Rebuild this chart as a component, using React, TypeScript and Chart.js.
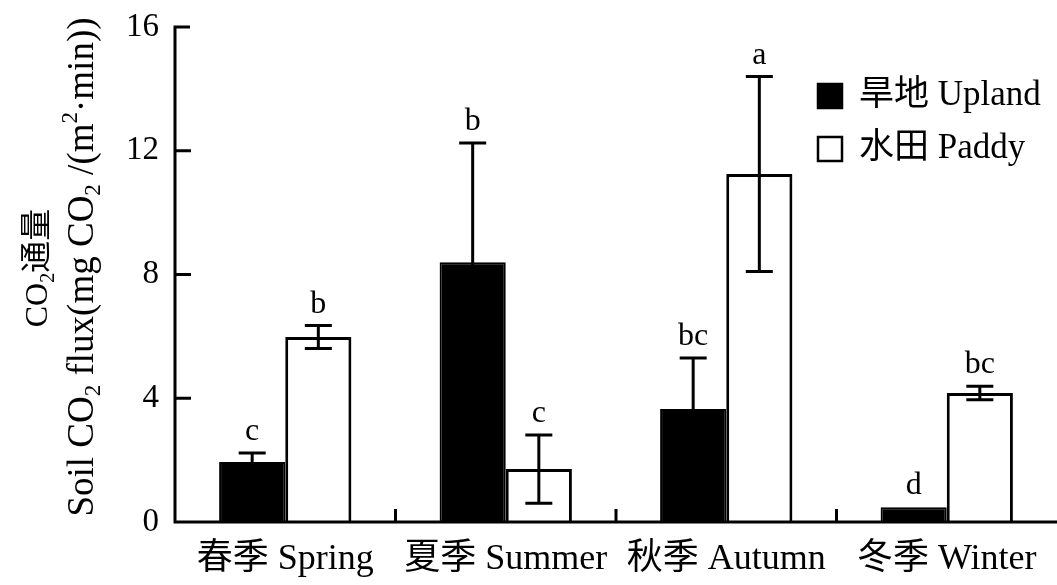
import { useEffect, useRef } from "react";
import { Chart, registerables } from "chart.js";
Chart.register(...registerables);

const categories = ["春季 Spring", "夏季 Summer", "秋季 Autumn", "冬季 Winter"];
const seriesNames = ["旱地 Upland", "水田 Paddy"];
const uplandValues = [1.94, 8.4, 3.65, 0.48];
const uplandErrors = [0.29, 3.85, 1.65, 0];
const uplandLetters = ["c", "b", "bc", "d"];
const paddyValues = [5.98, 1.71, 11.25, 4.17];
const paddyErrors = [0.37, 1.1, 3.15, 0.22];
const paddyLetters = ["b", "c", "a", "bc"];
const yTicks = [0, 4, 8, 12, 16];

type Seg = { t: string; k?: "sub" | "sup" };
const yTitleLine1: Seg[] = [{ t: "CO" }, { t: "2", k: "sub" }, { t: "通量" }];
const yTitleLine2: Seg[] = [
  { t: "Soil CO" }, { t: "2", k: "sub" }, { t: " flux(mg CO" }, { t: "2", k: "sub" },
  { t: " /(m" }, { t: "2", k: "sup" }, { t: "·min))" },
];

const FAM = '"Liberation Serif", "Noto Sans CJK SC", serif';

function drawRich(ctx: CanvasRenderingContext2D, segs: Seg[], cx: number, cy: number, size: number) {
  const small = Math.round(size * 0.62);
  const widths = segs.map((s) => {
    ctx.font = `${s.k ? small : size}px ${FAM}`;
    return ctx.measureText(s.t).width;
  });
  const total = widths.reduce((a, b) => a + b, 0);
  let x = cx - total / 2;
  ctx.textAlign = "left";
  ctx.textBaseline = "middle";
  segs.forEach((s, i) => {
    ctx.font = `${s.k ? small : size}px ${FAM}`;
    const dy = s.k === "sub" ? size * 0.3 : s.k === "sup" ? -size * 0.32 : 0;
    ctx.fillText(s.t, x, cy + dy);
    x += widths[i];
  });
}

const errorPlugin = {
  id: "errs",
  afterDatasetsDraw(chart: any) {
    const ctx: CanvasRenderingContext2D = chart.ctx;
    const ys = chart.scales.y;
    const sets = [
      { vals: uplandValues, errs: uplandErrors, letters: uplandLetters },
      { vals: paddyValues, errs: paddyErrors, letters: paddyLetters },
    ];
    ctx.save();
    sets.forEach((s, di) => {
      const meta = chart.getDatasetMeta(di);
      meta.data.forEach((el: any, i: number) => {
        const x = el.x;
        const v = s.vals[i];
        const e = s.errs[i];
        const top = ys.getPixelForValue(v + e);
        const bot = ys.getPixelForValue(v - e);
        ctx.strokeStyle = "#000";
        ctx.lineWidth = 3;
        if (e > 0) {
          ctx.beginPath();
          ctx.moveTo(x, top);
          ctx.lineTo(x, bot);
          ctx.moveTo(x - 13.5, top);
          ctx.lineTo(x + 13.5, top);
          ctx.moveTo(x - 13.5, bot);
          ctx.lineTo(x + 13.5, bot);
          ctx.stroke();
        }
        ctx.fillStyle = "#000";
        ctx.font = `32px ${FAM}`;
        ctx.textAlign = "center";
        ctx.textBaseline = "alphabetic";
        ctx.fillText(s.letters[i], x, top - 13);
      });
    });
    ctx.restore();
  },
  afterDraw(chart: any) {
    const ctx: CanvasRenderingContext2D = chart.ctx;
    const ys = chart.scales.y;
    const xs = chart.scales.x;
    const axisX = chart.chartArea.left;
    const y0 = ys.getPixelForValue(0);
    const yTop = ys.getPixelForValue(16);
    ctx.save();
    ctx.strokeStyle = "#000";
    ctx.lineWidth = 3;
    ctx.beginPath();
    ctx.moveTo(axisX + 15, yTop);
    ctx.lineTo(axisX, yTop);
    ctx.lineTo(axisX, y0);
    ctx.lineTo(chart.chartArea.right, y0);
    yTicks.forEach((t) => {
      if (t === 0 || t === 16) return;
      const py = ys.getPixelForValue(t);
      ctx.moveTo(axisX, py);
      ctx.lineTo(axisX + 16, py);
    });
    for (let i = 1; i < categories.length; i++) {
      const bx = (xs.getPixelForValue(i - 1) + xs.getPixelForValue(i)) / 2;
      ctx.moveTo(bx, y0);
      ctx.lineTo(bx, y0 - 13);
    }
    ctx.stroke();

    // y-axis title
    ctx.fillStyle = "#000";
    ctx.save();
    ctx.translate(39, 268);
    ctx.rotate(-Math.PI / 2);
    drawRich(ctx, yTitleLine1, 0, 0, 32);
    ctx.restore();
    ctx.save();
    ctx.translate(83, 267);
    ctx.rotate(-Math.PI / 2);
    drawRich(ctx, yTitleLine2, 0, 0, 37);
    ctx.restore();

    // legend
    const rows = [
      { name: seriesNames[0], fill: "#000" },
      { name: seriesNames[1], fill: "#fff" },
    ];
    rows.forEach((r, i) => {
      const cy = 96 + i * 53;
      ctx.fillStyle = r.fill;
      ctx.fillRect(818, cy - 12, 24, 24);
      ctx.lineWidth = 2.5;
      ctx.strokeRect(818, cy - 12, 24, 24);
      ctx.fillStyle = "#000";
      ctx.font = `35px ${FAM}`;
      ctx.textAlign = "left";
      ctx.textBaseline = "middle";
      ctx.fillText(r.name, 859, cy);
    });
    ctx.restore();
  },
};

export default function App() {
  const ref = useRef<HTMLCanvasElement>(null);
  useEffect(() => {
    document.body.style.margin = "0";
    const chart = new Chart(ref.current!, {
      type: "bar",
      data: {
        labels: categories,
        datasets: [
          {
            label: seriesNames[0],
            data: uplandValues,
            backgroundColor: "#000",
            borderColor: "#000",
            borderWidth: 2,
            barPercentage: 1,
            categoryPercentage: 0.6,
          },
          {
            label: seriesNames[1],
            data: paddyValues,
            backgroundColor: "#fff",
            borderColor: "#000",
            borderWidth: 3,
            barPercentage: 1,
            categoryPercentage: 0.6,
          },
        ],
      },
      options: {
        responsive: false,
        animation: false,
        layout: { padding: { top: 27, right: 0, left: 0, bottom: 0 } },
        plugins: { legend: { display: false }, tooltip: { enabled: false } },
        scales: {
          x: {
            grid: { display: false, drawTicks: false },
            border: { display: false },
            ticks: { color: "#000", font: { family: FAM, size: 36 }, padding: 16, maxRotation: 0, autoSkip: false },
            afterFit: (s: any) => { s.height = 63; s.paddingLeft = 0; s.paddingRight = 0; },
          },
          y: {
            min: 0,
            max: 16,
            grid: { display: false, drawTicks: false },
            border: { display: false },
            afterBuildTicks: (s: any) => { s.ticks = yTicks.map((v) => ({ value: v })); },
            ticks: { color: "#000", font: { family: FAM, size: 33 }, padding: 16 },
            afterFit: (s: any) => { s.width = 175; s.paddingTop = 0; s.paddingBottom = 0; },
          },
        },
      },
      plugins: [errorPlugin],
    });
    return () => chart.destroy();
  }, []);
  return <canvas ref={ref} width={1057} height={585} style={{ display: "block" }} />;
}
